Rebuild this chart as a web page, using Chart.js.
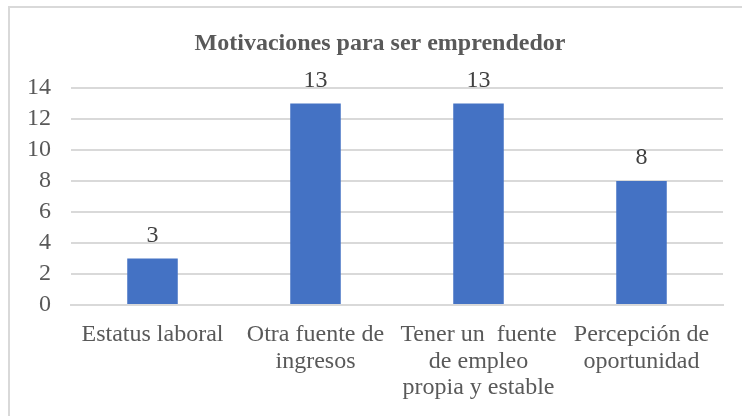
<!DOCTYPE html>
<html>
<head>
<meta charset="utf-8">
<script src="https://cdn.jsdelivr.net/npm/chart.js@4"></script>
<style>
  html, body { margin: 0; padding: 0; background: #fff; overflow: hidden; }
  #frame {
    position: absolute; left: 8px; top: 6px; width: 800px; height: 500px;
    border-left: 2px solid #d9d9d9; border-top: 2px solid #d9d9d9;
  }
  #wrap { position: absolute; left: 0; top: 0; width: 760px; height: 416px; }
</style>
</head>
<body>
<div id="frame"></div>
<div id="wrap"><canvas id="myChart"></canvas></div>
<script>
let title = 'Motivaciones para ser emprendedor';
let labels = ['Estatus laboral', ['Otra fuente de', 'ingresos'], ['Tener un  fuente', 'de empleo', 'propia y estable'], ['Percepción de', 'oportunidad']];
let values = [3, 13, 13, 8];
let yTicks = [0, 2, 4, 6, 8, 10, 12, 14];

let serif = "'Liberation Serif', 'Times New Roman', serif";

// title drawn by hand: it is centred on the whole frame, not on the plot
let chartTitle = {
	id: 'chartTitle',
	afterDraw(chart) {
		let ctx = chart.ctx;
		ctx.save();
		ctx.font = "bold 24px " + serif;
		ctx.fillStyle = '#595959';
		ctx.textAlign = 'center';
		ctx.textBaseline = 'middle';
		ctx.fillText(title, 380, 44);
		ctx.restore();
	}
};

let valueLabels = {
	id: 'valueLabels',
	afterDatasetsDraw(chart) {
		let ctx = chart.ctx;
		let meta = chart.getDatasetMeta(0);
		ctx.save();
		ctx.font = "24px " + serif;
		ctx.fillStyle = '#404040';
		ctx.textAlign = 'center';
		ctx.textBaseline = 'alphabetic';
		meta.data.forEach(function (bar, i) {
			ctx.fillText(values[i], bar.x, bar.y - 17);
		});
		ctx.restore();
	}
};

let myChart = document.getElementById("myChart").getContext('2d');

let chart = new Chart(myChart, {
	type: 'bar',
	data: {
		labels: labels,
		datasets: [{
			data: values,
			backgroundColor: '#4472c4',
			barPercentage: 0.31,
			categoryPercentage: 1
		}]
	},
	plugins: [valueLabels, chartTitle],
	options: {
		responsive: true,
		maintainAspectRatio: false,
		animation: false,
		layout: { padding: { left: 10, right: 37, top: 88, bottom: 0 } },
		plugins: {
			legend: { display: false },
			tooltip: { enabled: false },
			title: { display: false }
		},
		scales: {
			x: {
				grid: { display: false },
				border: { display: true, color: '#d9d9d9', width: 2 },
				ticks: {
					color: '#595959',
					font: { family: serif, size: 24, lineHeight: 1.1 },
					padding: 9,
					maxRotation: 0,
					autoSkip: false
				},
				afterFit(scale) { scale.height = 111; }
			},
			y: {
				min: 0,
				max: 14,
				afterBuildTicks(scale) { scale.ticks = yTicks.map(v => ({ value: v })); },
				grid: { color: '#d9d9d9', lineWidth: 2, drawTicks: false },
				border: { display: false },
				ticks: {
					color: '#595959',
					font: { family: serif, size: 24, lineHeight: 1 },
					padding: 20,
					autoSkip: false
				},
				afterFit(scale) { scale.width = 61; }
			}
		}
	}
});
</script>
</body>
</html>
